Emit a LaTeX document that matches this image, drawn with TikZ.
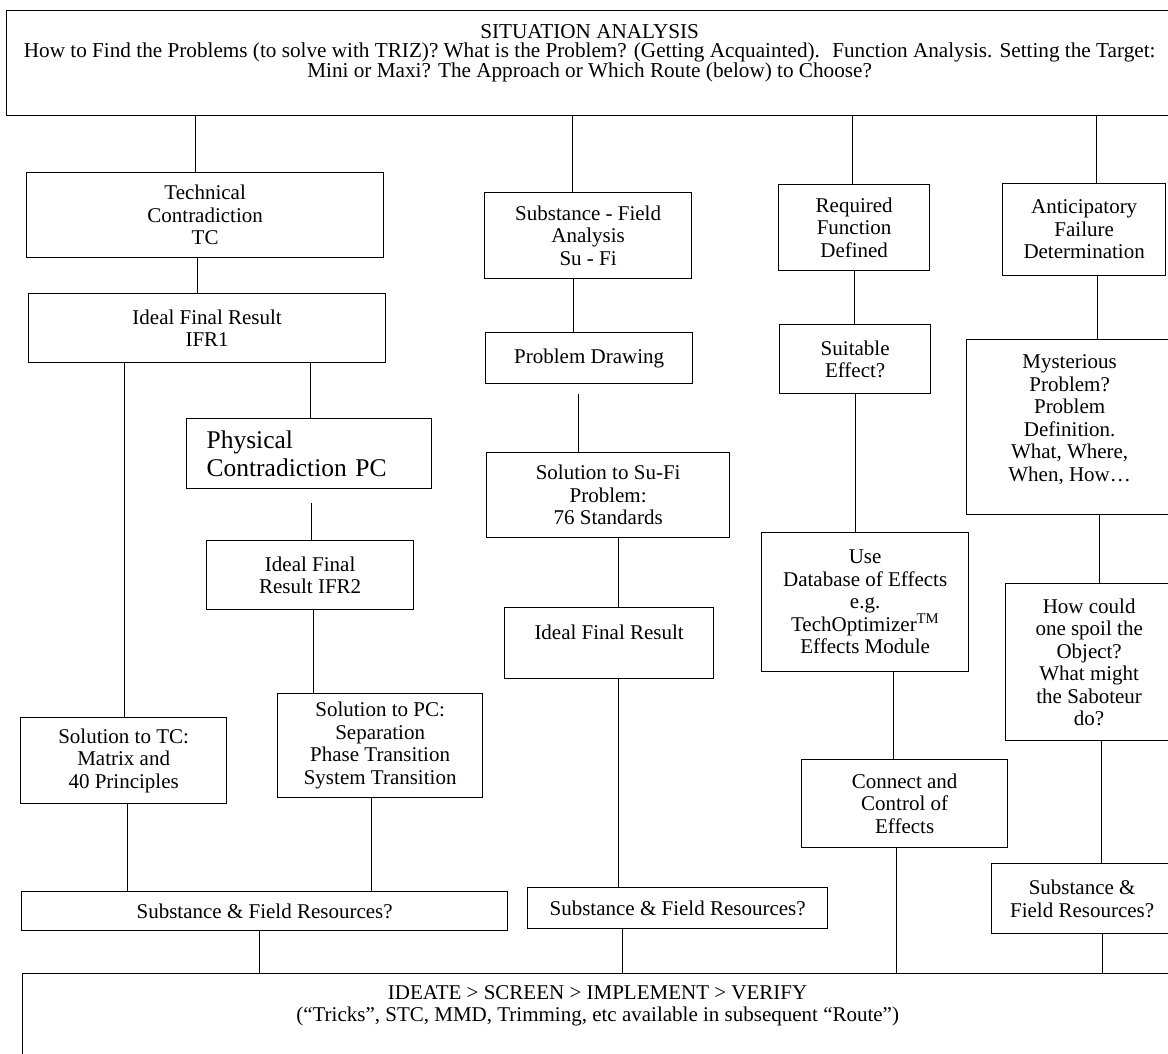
\documentclass[tikz,border=0pt]{standalone}
\usepackage{fontspec}
\setmainfont{Liberation Serif}
\begin{document}
\begin{tikzpicture}[x=1pt,y=-1pt,
  box/.style={draw, line width=1.3pt, anchor=north west, align=center, inner sep=0pt,
              font=\fontsize{21}{22.5}\selectfont},
  wire/.style={line width=1pt}]
\useasboundingbox (0,0) rectangle (1168,1054);
\clip (0,0) rectangle (1168,1054);
% top
\node[box, minimum width=1166pt, minimum height=105pt, font=\fontsize{21.2}{19}\selectfont] (top) at (6,10)
 {SITUATION ANALYSIS\\How to Find the Problems (to solve with TRIZ)? What is the Problem? (Getting Acquainted). \ Function Analysis. Setting the Target:\\Mini or Maxi? The Approach or Which Route (below) to Choose?\\[6pt]\mbox{}};
% left column
\node[box, minimum width=357pt, minimum height=85pt] (tc) at (26,172) {Technical\\Contradiction\\TC};
\node[box, minimum width=357pt, minimum height=69pt] (ifr1) at (28,293) {Ideal Final Result\\IFR1};
\node[box, minimum width=245pt, minimum height=70pt, align=left, text width=205pt, inner xsep=20pt,
      font=\fontsize{25.5}{28}\selectfont] (pc) at (186,418) {Physical\\Contradiction PC};
\node[box, minimum width=207pt, minimum height=69pt] (ifr2) at (206,540) {Ideal Final\\Result IFR2};
\node[box, minimum width=206pt, minimum height=86pt] (soltc) at (20,717) {Solution to TC:\\Matrix and\\40 Principles};
\node[box, minimum width=205pt, minimum height=104pt] (solpc) at (277,693) {Solution to PC:\\Separation\\Phase Transition\\System Transition};
\node[box, minimum width=486pt, minimum height=39pt] (sfr1) at (21,891) {Substance \& Field Resources?};
% middle column
\node[box, minimum width=207pt, minimum height=86pt] (sufi) at (484,192) {Substance - Field\\Analysis\\Su - Fi};
\node[box, minimum width=207pt, minimum height=51pt] (pd) at (485,332) {Problem Drawing};
\node[box, minimum width=243pt, minimum height=85pt] (solsufi) at (486,452) {Solution to Su-Fi\\Problem:\\76 Standards};
\node[box, minimum width=209pt, minimum height=71pt] (ifr3) at (504,607) {Ideal Final Result\\\mbox{}};
\node[box, minimum width=300pt, minimum height=41pt] (sfr2) at (527,887) {Substance \& Field Resources?};
% effects column
\node[box, minimum width=151pt, minimum height=86pt] (rf) at (778,184) {Required\\Function\\Defined};
\node[box, minimum width=151pt, minimum height=69pt] (suit) at (779,324) {Suitable\\Effect?};
\node[box, minimum width=207pt, minimum height=139pt] (usedb) at (761,532) {Use\\Database of Effects\\e.g.\\TechOptimizer\textsuperscript{TM}\\Effects Module};
\node[box, minimum width=206pt, minimum height=88pt] (conn) at (801,759) {Connect and\\Control of\\Effects};
% right column
\node[box, minimum width=163pt, minimum height=92pt] (ant) at (1002,183) {Anticipatory\\Failure\\Determination};
\node[box, minimum width=206pt, minimum height=175pt] (myst) at (966,339) {Mysterious\\Problem?\\Problem\\Definition.\\What, Where,\\When, How\ldots\\[-4pt]\mbox{}};
\node[box, minimum width=167pt, minimum height=157pt] (how) at (1005,583) {How could\\one spoil the\\Object?\\What might\\the Saboteur\\do?};
\node[box, minimum width=181pt, minimum height=70pt] (sfr3) at (991,863) {Substance \&\\Field Resources?};
% bottom
\node[box, minimum width=1150pt, minimum height=82pt] (bot) at (22,973) {IDEATE > SCREEN > IMPLEMENT > VERIFY\\(“Tricks”, STC, MMD, Trimming, etc available in subsequent “Route”)\\\mbox{}};
% connectors
\draw[wire] (top.south -| 195,0) -- (tc.north -| 195,0);
\draw[wire] (top.south -| 572,0) -- (sufi.north -| 572,0);
\draw[wire] (top.south -| 852,0) -- (rf.north -| 852,0);
\draw[wire] (top.south -| 1096,0) -- (ant.north -| 1096,0);
\draw[wire] (tc.south -| 197,0) -- (ifr1.north -| 197,0);
\draw[wire] (ifr1.south -| 124,0) -- (soltc.north -| 124,0);
\draw[wire] (ifr1.south -| 310,0) -- (pc.north -| 310,0);
\draw[wire] (pc.south -| 311,0) ++(0,14) -- (ifr2.north -| 311,0);
\draw[wire] (ifr2.south -| 313,0) -- (solpc.north -| 313,0);
\draw[wire] (soltc.south -| 127,0) -- (sfr1.north -| 127,0);
\draw[wire] (solpc.south -| 371,0) -- (sfr1.north -| 371,0);
\draw[wire] (sfr1.south -| 259,0) -- (bot.north -| 259,0);
\draw[wire] (sufi.south -| 573,0) -- (pd.north -| 573,0);
\draw[wire] (pd.south -| 578,0) ++(0,10) -- (solsufi.north -| 578,0);
\draw[wire] (solsufi.south -| 618,0) -- (ifr3.north -| 618,0);
\draw[wire] (ifr3.south -| 618,0) -- (sfr2.north -| 618,0);
\draw[wire] (sfr2.south -| 622,0) -- (bot.north -| 622,0);
\draw[wire] (rf.south -| 854,0) -- (suit.north -| 854,0);
\draw[wire] (suit.south -| 855,0) -- (usedb.north -| 855,0);
\draw[wire] (usedb.south -| 893,0) -- (conn.north -| 893,0);
\draw[wire] (conn.south -| 896,0) -- (bot.north -| 896,0);
\draw[wire] (ant.south -| 1097,0) -- (myst.north -| 1097,0);
\draw[wire] (myst.south -| 1099,0) -- (how.north -| 1099,0);
\draw[wire] (how.south -| 1101,0) -- (sfr3.north -| 1101,0);
\draw[wire] (sfr3.south -| 1102,0) -- (bot.north -| 1102,0);
\end{tikzpicture}
\end{document}
